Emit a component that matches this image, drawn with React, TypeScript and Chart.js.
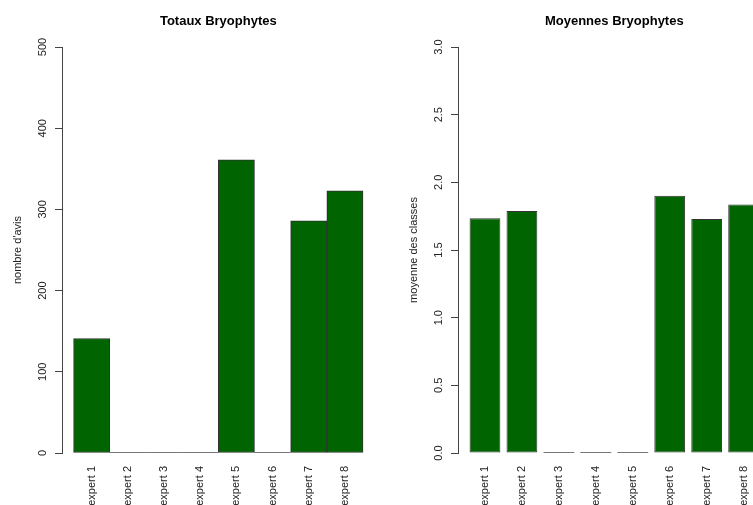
import { useEffect, useRef } from "react";
import { Chart, registerables } from "chart.js";

Chart.register(...registerables);

const experts = ["expert 1", "expert 2", "expert 3", "expert 4", "expert 5", "expert 6", "expert 7", "expert 8"];
const totals = [141, 0, 0, 0, 361, 0, 286, 323];
const means = [1.734, 1.788, 0, 0, 0, 1.9, 1.729, 1.836];
const totalTicks = [0, 100, 200, 300, 400, 500];
const totalTickLabels = ["0", "100", "200", "300", "400", "500"];
const meanTicks = [0, 0.5, 1, 1.5, 2, 2.5, 3];
const meanTickLabels = ["0.0", "0.5", "1.0", "1.5", "2.0", "2.5", "3.0"];
const totalTitle = "Totaux Bryophytes";
const meanTitle = "Moyennes Bryophytes";
const totalAxisTitle = "nombre d'avis";
const meanAxisTitle = "moyenne des classes";

const FONT = "'Liberation Sans', Arial, Helvetica, sans-serif";
const PANEL_W = 396;
const PANEL_H = 505;

type PanelProps = {
  values: number[];
  yTicks: number[];
  yTickLabels: string[];
  title: string;
  yTitle: string;
  space: number;
};

function BarPanel({ values, yTicks, yTickLabels, title, yTitle, space }: PanelProps) {
  const ref = useRef<HTMLCanvasElement>(null);
  useEffect(() => {
    const n = values.length;
    const centers = values.map((_, i) => space + i * (1 + space) + 0.5);
    const lo = space;
    const hi = n * (1 + space);
    const pad = (hi - lo) * 0.04;

    const yLabelsPlugin = {
      id: "rotatedYLabels",
      afterDraw(chart: any) {
        const s = chart.scales.y;
        const ctx = chart.ctx;
        ctx.save();
        ctx.font = `11px ${FONT}`;
        ctx.fillStyle = "#222";
        ctx.textAlign = "center";
        ctx.textBaseline = "middle";
        yTicks.forEach((v, i) => {
          const py = s.getPixelForValue(v);
          ctx.save();
          ctx.translate(43, py);
          ctx.rotate(-Math.PI / 2);
          ctx.fillText(yTickLabels[i], 0, 0);
          ctx.restore();
        });
        ctx.restore();
      },
    };

    const zeroBarsPlugin = {
      id: "zeroBars",
      afterDatasetsDraw(chart: any) {
        const meta = chart.getDatasetMeta(0);
        const ctx = chart.ctx;
        ctx.save();
        ctx.strokeStyle = "#777";
        ctx.lineWidth = 1;
        meta.data.forEach((el: any, i: number) => {
          if (values[i] !== 0) return;
          const { x, y, width } = el.getProps(["x", "y", "width"], true);
          ctx.beginPath();
          ctx.moveTo(x - width / 2, y - 0.5);
          ctx.lineTo(x + width / 2, y - 0.5);
          ctx.stroke();
        });
        ctx.restore();
      },
    };

    const chart = new Chart(ref.current as HTMLCanvasElement, {
      type: "bar",
      data: {
        datasets: [
          {
            data: values.map((v, i) => ({ x: centers[i], y: v })),
            backgroundColor: "#006400",
            borderColor: "#333",
            borderWidth: 1,
            borderSkipped: false,
            categoryPercentage: 1,
            barPercentage: 1 / (1 + space),
          } as any,
        ],
      },
      options: {
        responsive: false,
        animation: false,
        devicePixelRatio: 1,
        layout: { padding: { left: 0, right: 21.4, top: 0, bottom: 0 } },
        plugins: {
          legend: { display: false },
          tooltip: { enabled: false },
          title: {
            display: true,
            text: title,
            fullSize: false,
            color: "#000",
            font: { family: FONT, size: 13, weight: "bold", lineHeight: 1.2 },
            padding: { top: 13.5, bottom: 17.9 },
          },
        },
        scales: {
          x: {
            type: "linear",
            offset: false,
            min: lo - pad,
            max: hi + pad,
            afterBuildTicks: (s: any) => {
              s.ticks = centers.map((c) => ({ value: c }));
            },
            afterFit: (s: any) => {
              s.height = 52;
            },
            grid: { display: false, drawTicks: false, offset: false },
            border: { display: false },
            ticks: {
              autoSkip: false,
              minRotation: 90,
              maxRotation: 90,
              padding: 13,
              color: "#222",
              font: { family: FONT, size: 11 },
              callback: (_v: any, i: number) => experts[i],
            },
          },
          y: {
            type: "linear",
            min: 0,
            max: yTicks[yTicks.length - 1],
            afterBuildTicks: (s: any) => {
              s.ticks = yTicks.map((v) => ({ value: v }));
            },
            afterFit: (s: any) => {
              s.width = 62;
            },
            grid: { drawOnChartArea: false, drawTicks: true, tickLength: 7, color: "#444" },
            border: { display: true, color: "#444", width: 1 },
            ticks: { display: false },
            title: {
              display: true,
              text: yTitle,
              color: "#222",
              font: { family: FONT, size: 11, lineHeight: 1.2 },
              padding: { top: 11, bottom: 0 },
            },
          },
        },
      } as any,
      plugins: [yLabelsPlugin, zeroBarsPlugin],
    });
    return () => chart.destroy();
  }, []);
  return <canvas ref={ref} width={PANEL_W} height={PANEL_H} style={{ width: PANEL_W, height: PANEL_H, display: "block" }} />;
}

export default function App() {
  return (
    <div
      style={{
        position: "absolute",
        left: 0,
        top: 0,
        width: 753,
        height: 505,
        overflow: "hidden",
        background: "#fff",
      }}
    >
      <div style={{ position: "absolute", left: 0, top: 0 }}>
        <BarPanel
          values={totals}
          yTicks={totalTicks}
          yTickLabels={totalTickLabels}
          title={totalTitle}
          yTitle={totalAxisTitle}
          space={0}
        />
      </div>
      <div style={{ position: "absolute", left: PANEL_W, top: 0 }}>
        <BarPanel
          values={means}
          yTicks={meanTicks}
          yTickLabels={meanTickLabels}
          title={meanTitle}
          yTitle={meanAxisTitle}
          space={0.2}
        />
      </div>
    </div>
  );
}
